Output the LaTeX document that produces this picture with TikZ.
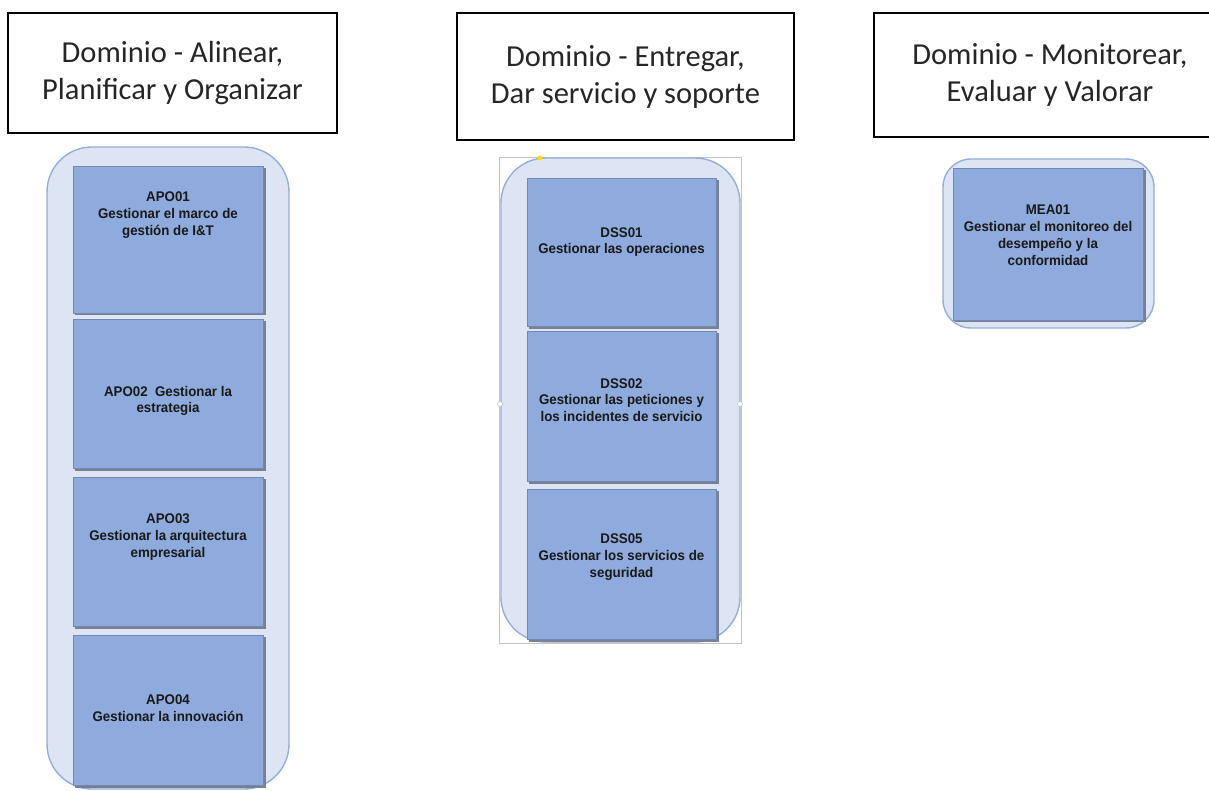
\documentclass[tikz,border=0pt]{standalone}
\usepackage{fontspec}
\setmainfont{Carlito}
\newfontfamily\boxfont{Liberation Sans}[FakeStretch=0.95]
\definecolor{boxblue}{RGB}{143,170,220}
\definecolor{contfill}{RGB}{221,229,245}
\definecolor{contline}{RGB}{150,175,215}
\definecolor{shade}{RGB}{120,128,145}
\definecolor{selgray}{RGB}{195,195,195}
\tikzset{
  header/.style={draw=black, line width=1.8pt, fill=white, inner sep=0pt, align=center,
    font=\fontsize{30.5}{37}\selectfont, text=black!85},
  cont/.style={draw=contline, line width=1.4pt, fill=contfill},
  procbox/.style={fill=boxblue, draw=boxblue!80!black, line width=0.6pt},
  procshadow/.style={fill=shade},
  proctext/.style={align=center, font=\boxfont\bfseries\fontsize{14}{16.8}\selectfont, text=black!90, inner sep=0pt},
  handle/.style={circle, draw=selgray, fill=white, line width=0.6pt, minimum size=5pt, inner sep=0pt}
}
\begin{document}
\begin{tikzpicture}[x=1pt,y=-1pt]
\useasboundingbox (0,0) rectangle (1209,791);
\fill[white] (0,0) rectangle (1209,791);

% headers
\node[header, minimum width=329pt, minimum height=120pt] (h1) at (172.5,73) {Dominio - Alinear,\\Planificar y Organizar};
\node[header, minimum width=337pt, minimum height=127pt] (h2) at (625.5,76.5) {Dominio - Entregar,\\Dar servicio y soporte};
\draw[black, line width=1.8pt, fill=white] (1212,13) -- (874,13) -- (874,137) -- (1212,137);
\node[align=center, inner sep=0pt, font=\fontsize{30.5}{37}\selectfont, text=black!85] (h3) at (1050,75) {Dominio - Monitorear,\\Evaluar y Valorar};

% container 1
\draw[cont] (47,147) [rounded corners=45pt] rectangle (289,789);
\foreach \ya/\yb in {166/313, 319/468, 477/626, 635/785}{
  \fill[procshadow] (75,\ya+2) rectangle (265.5,\yb+2.5);
  \draw[procbox] (73,\ya) rectangle (263,\yb);
}
\node[proctext] (t1) at (168,215) {APO01\\Gestionar el marco de\\gestión de I\&T};
\node[proctext] (t2) at (168,401) {APO02\ \ Gestionar la\\estrategia};
\node[proctext] (t3) at (168,537) {APO03\\Gestionar la arquitectura\\empresarial};
\node[proctext] (t4) at (168,708) {APO04\\Gestionar la innovación};

% container 2 with selection frame
\draw[selgray, line width=0.6pt] (499,157) rectangle (741,643);
\draw[cont] (501,158) [rounded corners=45pt] rectangle (740,642);
\foreach \ya/\yb in {178/326, 331/481, 489/639}{
  \fill[procshadow] (529,\ya+2) rectangle (718.5,\yb+2.5);
  \draw[procbox] (527,\ya) rectangle (716,\yb);
}
\node[proctext] (t5) at (621.5,242) {DSS01\\Gestionar las operaciones};
\node[proctext] (t6) at (621.5,400) {DSS02\\Gestionar las peticiones y\\los incidentes de servicio};
\node[proctext] (t7) at (621.5,557) {DSS05\\Gestionar los servicios de\\seguridad};
\node[handle] (hl) at (500,404) {};
\node[handle] (hr) at (740,404) {};
\node[circle, fill=yellow!85!orange, inner sep=0pt, minimum size=5pt] (hy) at (540,158) {};

% container 3
\draw[cont] (943,159) [rounded corners=28pt] rectangle (1154,328);
\fill[procshadow] (955,170) rectangle (1145.5,322.5);
\draw[procbox] (953,168) rectangle (1143,320);
\node[proctext] (t8) at (1048,235) {MEA01\\Gestionar el monitoreo del\\desempeño y la\\conformidad};
\end{tikzpicture}
\end{document}
